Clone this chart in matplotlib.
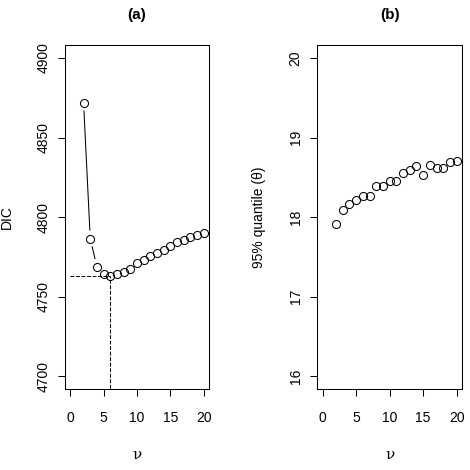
import numpy as np
import matplotlib
matplotlib.use("Agg")
import matplotlib.pyplot as plt

# 데이터
nu = [2, 3, 4, 5, 6, 7, 8, 9, 10, 11, 12, 13, 14, 15, 16, 17, 18, 19, 20]
dic = [4871.9, 4786.5, 4768.8, 4764.0, 4762.8, 4764.4, 4765.8, 4767.7, 4770.9,
       4773.2, 4775.5, 4777.4, 4779.3, 4781.8, 4784.4, 4785.6, 4787.8, 4789.0, 4790.3]
q95 = [17.91, 18.09, 18.16, 18.21, 18.27, 18.26, 18.39, 18.39, 18.46, 18.46,
       18.56, 18.59, 18.64, 18.53, 18.65, 18.62, 18.62, 18.69, 18.70]

xticks = [0, 5, 10, 15, 20]
dic_ticks = [4700, 4750, 4800, 4850, 4900]
q_ticks = [16, 17, 18, 19, 20]


def r_style(ax, xlim, ylim, yticks):
    # R 기본 축 범위(4% 확장)
    dx = (xlim[1] - xlim[0]) * 0.04
    dy = (ylim[1] - ylim[0]) * 0.04
    ax.set_xlim(xlim[0] - dx, xlim[1] + dx)
    ax.set_ylim(ylim[0] - dy, ylim[1] + dy)
    ax.set_xticks(xticks)
    ax.set_yticks(yticks)
    ax.set_yticklabels([str(t) for t in yticks], rotation=90, va="center")
    ax.tick_params(axis="x", length=5, width=0.75, pad=10.5, labelsize=10)
    ax.tick_params(axis="y", length=5, width=0.75, pad=5.5, labelsize=10)
    for s in ax.spines.values():
        s.set_linewidth(0.75)


def main():
    plt.rcParams['font.family'] = ['Liberation Sans', 'DejaVu Sans']

    fig = plt.figure(figsize=(4.7, 4.7), dpi=100)
    ax1 = fig.add_axes([0.138, 0.172, 0.307, 0.732])
    ax2 = fig.add_axes([0.675, 0.172, 0.308, 0.732])

    # (a) DIC
    r_style(ax1, (0, 20), (4700, 4900), dic_ticks)
    ax1.plot(nu, dic, "o", ms=5.8, mfc="none", mec="black", mew=0.75)

    # type="b" 처럼 점 주변에 간격을 두고 선 그리기
    gap = 8.5 * fig.dpi / 100
    for i in range(len(nu) - 1):
        p0 = ax1.transData.transform((nu[i], dic[i]))
        p1 = ax1.transData.transform((nu[i + 1], dic[i + 1]))
        d = np.hypot(*(p1 - p0))
        if d <= 2 * gap:
            continue
        t = gap / d
        xs = [nu[i] + t * (nu[i + 1] - nu[i]), nu[i + 1] - t * (nu[i + 1] - nu[i])]
        ys = [dic[i] + t * (dic[i + 1] - dic[i]), dic[i + 1] - t * (dic[i + 1] - dic[i])]
        ax1.plot(xs, ys, color="black", lw=0.75)

    # 최소 DIC 위치 표시
    imin = int(np.argmin(dic))
    ax1.plot([0, nu[imin]], [dic[imin], dic[imin]], "--", color="black", lw=0.75)
    ax1.plot([nu[imin], nu[imin]], [4600, dic[imin]], "--", color="black", lw=0.75)

    ax1.set_title("(a)", fontsize=11, fontweight="bold", pad=19)
    ax1.set_ylabel("DIC", fontsize=10)
    ax1.yaxis.set_label_coords(-0.35, 0.5)
    ax1.set_xlabel("ν", fontsize=11, family=["DejaVu Serif"])
    ax1.xaxis.set_label_coords(0.5, -0.17)

    # (b) 95% quantile
    r_style(ax2, (0, 20), (16, 20), q_ticks)
    ax2.plot(nu, q95, "o", ms=5.8, mfc="none", mec="black", mew=0.75)
    ax2.set_title("(b)", fontsize=11, fontweight="bold", pad=19)
    ax2.set_ylabel("95% quantile (θ)", fontsize=10)
    ax2.yaxis.set_label_coords(-0.353, 0.5)
    ax2.set_xlabel("ν", fontsize=11, family=["DejaVu Serif"])
    ax2.xaxis.set_label_coords(0.5, -0.17)

    fig.savefig("out.png", dpi=100)


if __name__ == "__main__":
    main()
